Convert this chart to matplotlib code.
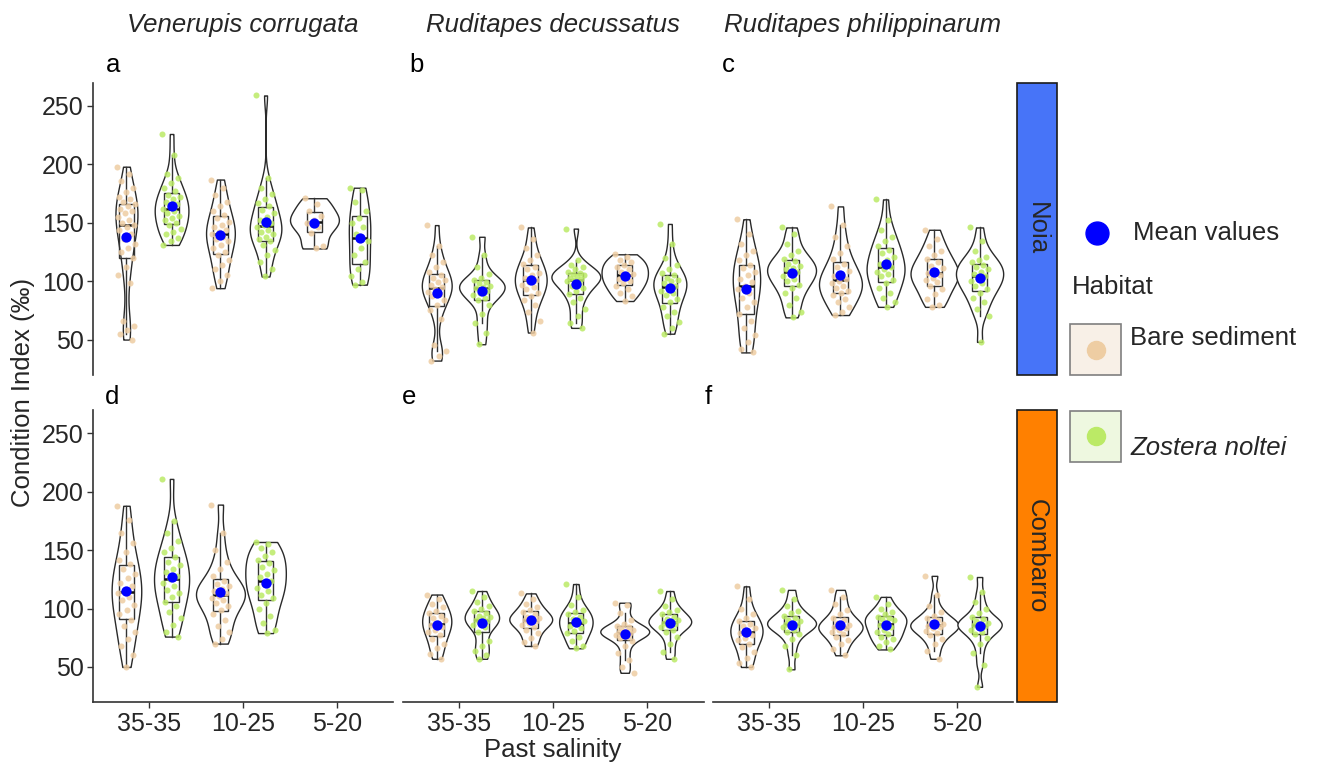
import numpy as np
import matplotlib.pyplot as plt
from matplotlib import cbook
from matplotlib.patches import Rectangle
from matplotlib.lines import Line2D

plt.rcParams['font.family'] = ['Liberation Sans', 'DejaVu Sans']

W, H = 1317, 767

salinity = ['35-35', '10-25', '5-20']
species = ['Venerupis corrugata', 'Ruditapes decussatus', 'Ruditapes philippinarum']
sites = ['Noia', 'Combarro']
tags = ['a', 'b', 'c', 'd', 'e', 'f']

# condition index (per mille), one list per violin
# Venerupis corrugata - Noia
vc_noia_bare_35 = [198, 192, 186, 180, 176, 172, 170, 168, 166, 164, 162, 160, 158, 155, 152, 150, 148,
                   146, 144, 140, 136, 132, 128, 125, 120, 112, 105, 98, 66, 62, 58, 55, 50]
vc_noia_zos_35 = [226, 208, 192, 188, 184, 180, 177, 174, 172, 170, 168, 166, 164, 162, 160, 158, 156,
                  154, 152, 150, 148, 145, 142, 140, 137, 134, 131]
vc_noia_bare_10 = [187, 180, 174, 168, 164, 160, 157, 154, 151, 148, 146, 144, 142, 140, 138, 136, 134,
                   131, 128, 125, 122, 118, 114, 110, 105, 100, 94]
vc_noia_zos_10 = [259, 188, 180, 175, 170, 167, 164, 161, 158, 155, 152, 150, 148, 146, 144, 142, 140,
                  138, 136, 134, 131, 127, 122, 116, 110, 104]
vc_noia_bare_5 = [171, 166, 160, 156, 152, 150, 146, 141, 130, 128]
vc_noia_zos_5 = [180, 178, 168, 160, 154, 150, 146, 140, 134, 128, 122, 116, 110, 104, 99, 97]

# Ruditapes decussatus - Noia
rd_noia_bare_35 = [148, 130, 122, 116, 112, 108, 105, 103, 101, 99, 97, 95, 93, 91, 89, 87, 84, 80,
                   75, 68, 45, 40, 36, 32]
rd_noia_zos_35 = [138, 122, 112, 106, 103, 101, 99, 98, 96, 95, 94, 92, 90, 88, 86, 84, 80, 72, 64, 56, 46]
rd_noia_bare_10 = [146, 136, 128, 122, 118, 115, 112, 110, 107, 105, 103, 101, 99, 97, 95, 93, 90, 87,
                   84, 80, 74, 66, 56]
rd_noia_zos_10 = [145, 118, 114, 112, 110, 108, 107, 106, 105, 104, 103, 102, 101, 100, 98, 96, 94, 92,
                  89, 86, 82, 76, 70, 64, 60]
rd_noia_bare_5 = [123, 121, 118, 116, 114, 112, 110, 108, 106, 104, 102, 100, 98, 96, 93, 90, 87, 83]
rd_noia_zos_5 = [149, 132, 120, 114, 110, 107, 105, 103, 101, 100, 98, 96, 94, 92, 90, 88, 85, 82, 78,
                 74, 70, 65, 60, 55]

# Ruditapes philippinarum - Noia
rp_noia_bare_35 = [153, 140, 132, 126, 122, 118, 114, 111, 108, 105, 102, 99, 96, 93, 90, 86, 82, 78,
                   72, 66, 60, 54, 48, 42, 39]
rp_noia_zos_35 = [146, 140, 132, 126, 122, 119, 117, 115, 113, 111, 110, 108, 106, 104, 102, 100, 97,
                  94, 90, 86, 80, 74, 69]
rp_noia_bare_10 = [164, 148, 138, 130, 124, 119, 115, 112, 109, 106, 104, 102, 100, 98, 96, 94, 92, 90,
                   88, 85, 82, 78, 74, 71]
rp_noia_zos_10 = [170, 152, 144, 138, 134, 130, 127, 124, 121, 118, 115, 112, 110, 108, 106, 104, 101,
                  98, 94, 90, 86, 82, 78]
rp_noia_bare_5 = [144, 136, 130, 126, 122, 119, 116, 113, 111, 109, 107, 105, 103, 101, 99, 96, 93, 89,
                  85, 80, 78]
rp_noia_zos_5 = [146, 134, 126, 121, 118, 116, 114, 112, 110, 108, 106, 104, 102, 100, 98, 96, 93, 90,
                 86, 82, 76, 70, 48]

# Venerupis corrugata - Combarro (no 5-20 group)
vc_comb_bare_35 = [188, 176, 165, 156, 148, 142, 138, 134, 130, 126, 122, 119, 116, 113, 110, 107, 103,
                   99, 95, 90, 85, 80, 74, 68, 60, 50]
vc_comb_zos_35 = [211, 175, 165, 158, 152, 148, 144, 140, 137, 134, 131, 128, 125, 122, 119, 116, 113,
                  110, 106, 102, 97, 92, 86, 80, 76]
vc_comb_bare_10 = [189, 165, 150, 140, 134, 128, 124, 121, 119, 117, 115, 113, 111, 109, 107, 105, 102,
                   99, 95, 90, 85, 80, 74, 70]
vc_comb_zos_10 = [157, 155, 152, 148, 145, 142, 139, 136, 133, 130, 127, 124, 121, 118, 115, 112, 109,
                  105, 100, 94, 88, 82, 79]
vc_comb_bare_5 = []
vc_comb_zos_5 = []

# Ruditapes decussatus - Combarro
rd_comb_bare_35 = [112, 108, 104, 101, 98, 96, 94, 92, 90, 88, 86, 84, 82, 80, 77, 74, 70, 66, 61, 57]
rd_comb_zos_35 = [115, 110, 106, 102, 100, 98, 96, 94, 93, 92, 90, 89, 88, 86, 84, 80, 72, 68, 64, 60, 57]
rd_comb_bare_10 = [113, 108, 104, 101, 99, 97, 95, 93, 92, 91, 90, 89, 88, 86, 84, 82, 79, 75, 71, 68]
rd_comb_zos_10 = [121, 110, 103, 99, 97, 95, 93, 91, 89, 87, 85, 83, 81, 79, 76, 72, 68, 66]
rd_comb_bare_5 = [105, 103, 96, 90, 87, 85, 84, 83, 82, 81, 80, 79, 78, 77, 76, 75, 72, 68, 62, 56, 50, 45]
rd_comb_zos_5 = [115, 108, 102, 99, 97, 95, 93, 91, 90, 89, 88, 87, 86, 84, 82, 80, 76, 70, 63, 57]

# Ruditapes philippinarum - Combarro
rp_comb_bare_35 = [119, 108, 100, 95, 92, 89, 87, 85, 83, 81, 79, 77, 75, 73, 70, 67, 63, 58, 53, 50]
rp_comb_zos_35 = [116, 108, 102, 98, 96, 94, 92, 90, 89, 88, 87, 86, 85, 84, 82, 80, 78, 74, 68, 60, 48]
rp_comb_bare_10 = [116, 110, 104, 99, 95, 92, 90, 88, 86, 85, 84, 83, 82, 80, 78, 76, 73, 70, 65, 60]
rp_comb_zos_10 = [110, 104, 100, 97, 95, 93, 92, 91, 90, 88, 86, 84, 82, 80, 78, 76, 74, 71, 68, 65]
rp_comb_bare_5 = [128, 112, 102, 97, 94, 92, 90, 88, 87, 86, 85, 84, 83, 81, 79, 77, 74, 70, 64, 57]
rp_comb_zos_5 = [127, 114, 106, 100, 96, 93, 91, 89, 88, 87, 86, 85, 84, 82, 80, 78, 75, 70, 62, 52, 33]

# panel -> [(bare, zostera) per salinity level]
panels = [
    [(vc_noia_bare_35, vc_noia_zos_35), (vc_noia_bare_10, vc_noia_zos_10), (vc_noia_bare_5, vc_noia_zos_5)],
    [(rd_noia_bare_35, rd_noia_zos_35), (rd_noia_bare_10, rd_noia_zos_10), (rd_noia_bare_5, rd_noia_zos_5)],
    [(rp_noia_bare_35, rp_noia_zos_35), (rp_noia_bare_10, rp_noia_zos_10), (rp_noia_bare_5, rp_noia_zos_5)],
    [(vc_comb_bare_35, vc_comb_zos_35), (vc_comb_bare_10, vc_comb_zos_10), (vc_comb_bare_5, vc_comb_zos_5)],
    [(rd_comb_bare_35, rd_comb_zos_35), (rd_comb_bare_10, rd_comb_zos_10), (rd_comb_bare_5, rd_comb_zos_5)],
    [(rp_comb_bare_35, rp_comb_zos_35), (rp_comb_bare_10, rp_comb_zos_10), (rp_comb_bare_5, rp_comb_zos_5)],
]

bare_col = '#EECDA3'
zos_col = '#BBEA66'
mean_col = '#0000FF'
ink = '#262626'


def kde_nrd0(x, coords):
    # gaussian kde with R's default bandwidth, like ggplot's geom_violin
    x = np.asarray(x, float)
    n = len(x)
    q75, q25 = np.percentile(x, [75, 25])
    bw = 0.9 * min(x.std(ddof=1), (q75 - q25) / 1.34) * n ** -0.2
    z = (coords[:, None] - x[None, :]) / bw
    return np.exp(-0.5 * z ** 2).sum(axis=1) / (n * bw * np.sqrt(2 * np.pi))


def px(x, y):
    return x / W, 1 - y / H


fig = plt.figure(figsize=(W / 100, H / 100), dpi=100)

col_left = [92.6, 402.9, 712.6]
col_w = 300.8
row_top = [82.6, 410.0]
row_h = 292.0
tag_xy = [(106, 65), (409, 65), (722, 65), (105, 397), (402, 397), (705, 397)]

for k, groups in enumerate(panels):
    r, c = divmod(k, 3)
    l, b = px(col_left[c], row_top[r] + row_h)
    ax = fig.add_axes([l, b, col_w / W, row_h / H])
    ax.set_xlim(0.4, 3.6)
    ax.set_ylim(20, 270)

    data, pos, cols = [], [], []
    for i, (bare, zos) in enumerate(groups):
        for vals, dx, col in ((bare, -0.24, bare_col), (zos, 0.24, zos_col)):
            if len(vals):
                data.append(np.array(vals, float))
                pos.append(i + 1 + dx)
                cols.append(col)

    stats = cbook.violin_stats(data, kde_nrd0, points=200)
    dmax = max(s['vals'].max() for s in stats)
    widths = [0.52 * s['vals'].max() / dmax for s in stats]
    parts = ax.violin(stats, positions=pos, widths=widths, showmeans=False,
                      showextrema=False, showmedians=False)
    for body in parts['bodies']:
        body.set_alpha(1)
        body.set_facecolor('white')
        body.set_edgecolor('#2a2a2a')
        body.set_linewidth(1.0)
        body.set_zorder(1)

    ax.boxplot(data, positions=pos, widths=0.16, whis=1.5, showfliers=False, showcaps=False,
               patch_artist=True, manage_ticks=False,
               boxprops=dict(facecolor='none', edgecolor='#333333', linewidth=1.0),
               whiskerprops=dict(color='#333333', linewidth=1.0),
               medianprops=dict(color='#111111', linewidth=1.8),
               zorder=2)

    for vals, p, col in zip(data, pos, cols):
        offs = ((np.arange(len(vals)) * 0.618034) % 1 - 0.5) * 0.2
        ax.scatter(p + offs, vals, s=19, color=col, alpha=0.85, linewidths=0, zorder=3)
        ax.scatter([p], [vals.mean()], s=55, color=mean_col, linewidths=0, zorder=5)

    for side in ('top', 'right'):
        ax.spines[side].set_visible(False)
    for side in ('left', 'bottom'):
        ax.spines[side].set_color('#333333')
        ax.spines[side].set_linewidth(1.2)
    ax.tick_params(length=4.5, width=1.0, color='#333333', labelcolor=ink, labelsize=18, pad=2)

    if r == 0:
        ax.spines['bottom'].set_visible(False)
        ax.set_xticks([])
    else:
        ax.set_xticks([1, 2, 3])
        ax.set_xticklabels(salinity)
        ax.tick_params(axis='x', pad=3)
    if c == 0:
        ax.set_yticks([50, 100, 150, 200, 250])
    else:
        ax.spines['left'].set_visible(False)
        ax.set_yticks([])

    fig.text(*px(*tag_xy[k]), tags[k], fontsize=18.5, color='black', ha='left', va='center')

# species titles
for c, name in enumerate(species):
    fig.text(*px(col_left[c] + col_w / 2, 25), name, fontsize=18.5, style='italic',
             color=ink, ha='center', va='center')

# site strips
strip_cols = ['#4774F8', '#FF8000']
for r, site in enumerate(sites):
    fig.add_artist(Rectangle(px(1016.5, row_top[r] + row_h), 40 / W, row_h / H,
                             transform=fig.transFigure, facecolor=strip_cols[r],
                             edgecolor='#1a1a1a', linewidth=1.2))
    fig.text(*px(1036.5, row_top[r] + row_h / 2), site, rotation=-90, fontsize=18.5,
             color=ink, ha='center', va='center')

fig.text(*px(23, 392), 'Condition Index (‰)', rotation=90, fontsize=18.5, color=ink,
         ha='center', va='center')
fig.text(*px(553, 750), 'Past salinity', fontsize=18.5, color=ink, ha='center', va='center')

# legend
fig.add_artist(Line2D([1096.7 / W], [1 - 232.7 / H], marker='o', ms=16.5, color=mean_col,
                      linestyle='none', transform=fig.transFigure))
fig.text(*px(1132.7, 232.7), 'Mean values', fontsize=18.5, color=ink, ha='left', va='center')
fig.text(*px(1071.7, 286.7), 'Habitat', fontsize=18.5, color=ink, ha='left', va='center')

keys = [(324, '#F8F0E7', bare_col, 'Bare sediment', 'normal', 338),
        (410.7, '#EEF8E0', zos_col, 'Zostera noltei', 'italic', 448)]
for top, fill, dot, label, style, ty in keys:
    fig.add_artist(Rectangle(px(1070, top + 51), 50.7 / W, 51 / H, transform=fig.transFigure,
                             facecolor=fill, edgecolor='#7f7f7f', linewidth=1.2))
    fig.add_artist(Line2D([1095.7 / W], [1 - (top + 25.5) / H], marker='o', ms=13, color=dot,
                          linestyle='none', transform=fig.transFigure))
    fig.text(*px(1130, ty), label, fontsize=18.5, style=style, color=ink, ha='left', va='center')

fig.savefig('out.png', dpi=100, facecolor='white')
